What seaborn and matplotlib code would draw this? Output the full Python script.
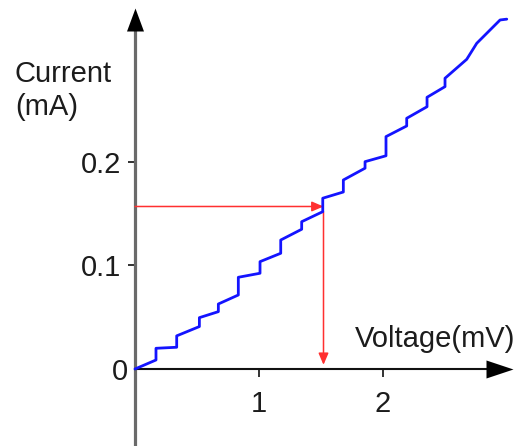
import matplotlib
matplotlib.use("Agg")
import matplotlib.pyplot as plt
import seaborn as sns
import pandas as pd

# Staircase current-voltage characteristic (vertex list)
voltage_mv = [0, 0.169, 0.169, 0.336, 0.336, 0.519, 0.519, 0.672, 0.672,
              0.833, 0.833, 1.008, 1.008, 1.175, 1.175, 1.344, 1.344,
              1.514, 1.514, 1.68, 1.68, 1.855, 1.855, 2.024, 2.024,
              2.191, 2.191, 2.355, 2.355, 2.5, 2.5, 2.675, 2.756, 2.944, 2.998]
current_ma = [0, 0.0087, 0.020, 0.021, 0.032, 0.041, 0.0496, 0.0554, 0.0628,
              0.0715, 0.0886, 0.0925, 0.1037, 0.1118, 0.1246, 0.135, 0.1423,
              0.152, 0.165, 0.171, 0.1826, 0.194, 0.2003, 0.206, 0.2245,
              0.2348, 0.2422, 0.2534, 0.2625, 0.2728, 0.2809, 0.2992, 0.3147,
              0.3372, 0.338]

# Operating point
read_voltage = 1.52
read_current = 0.157
curve_current_at_read = 0.152

x_ticks = [1, 2]
x_tick_labels = ["1", "2"]
y_ticks = [0.1, 0.2]
y_tick_labels = ["0.1", "0.2"]

sns.set_style("white")
plt.rcParams["font.family"] = ["Liberation Sans", "DejaVu Sans"]
TEXT = "#1c1c1c"
FS = 21

W, H = 524, 446
fig = plt.figure(figsize=(W / 100, H / 100), dpi=100)
ax = fig.add_axes([0, 0, 1, 1])
ax.set_xlim(-1.089, 3.137)
ax.set_ylim(-0.0744, 0.3565)

df = pd.DataFrame({"voltage": voltage_mv, "current": current_ma})
sns.lineplot(data=df, x="voltage", y="current", sort=False, estimator=None,
             color="#1414ff", lw=2.0, ax=ax, zorder=4)

# Red guide arrows to the operating point
ax.annotate("", xy=(read_voltage, read_current), xytext=(0, read_current),
            arrowprops=dict(arrowstyle="-|>,head_length=0.7,head_width=0.3",
                            color="#ff3030", lw=1.1, shrinkA=0, shrinkB=0),
            zorder=3)
ax.annotate("", xy=(read_voltage, 0.004), xytext=(read_voltage, curve_current_at_read),
            arrowprops=dict(arrowstyle="-|>,head_length=0.7,head_width=0.3",
                            color="#ff3030", lw=1.1, shrinkA=0, shrinkB=0),
            zorder=3)

# Axes through the origin
for side in ("top", "right"):
    ax.spines[side].set_visible(False)
ax.spines["left"].set_position(("data", 0))
ax.spines["bottom"].set_position(("data", 0))
ax.spines["left"].set_bounds(-0.0744, 0.33)
ax.spines["bottom"].set_bounds(0, 2.83)
ax.spines["left"].set_color("#6a6a6a")
ax.spines["left"].set_linewidth(2.3)
ax.spines["bottom"].set_color("#111111")
ax.spines["bottom"].set_linewidth(1.5)
ax.spines["left"].set_zorder(2)
ax.spines["bottom"].set_zorder(2)

# Arrowheads on the axes
ax.plot([0], [0.3266], marker=[(0, 23), (-8.5, 0), (8.5, 0)], markersize=33.1,
        color="black", mew=0, clip_on=False, zorder=5)
ax.plot([2.83], [0], marker=[(27, 0), (0, 9), (0, -9)], markersize=38.9,
        color="black", mew=0, clip_on=False, zorder=5)

ax.set_xticks(x_ticks)
ax.set_xticklabels(x_tick_labels)
ax.set_yticks(y_ticks)
ax.set_yticklabels(y_tick_labels)
ax.tick_params(axis="x", bottom=True, direction="out", length=6, width=1.3,
               color="#222222", pad=9, labelsize=FS, labelcolor=TEXT)
ax.tick_params(axis="y", left=True, direction="out", length=5, width=1.3,
               color="#222222", pad=5, labelsize=FS, labelcolor=TEXT)
ax.set_xlabel("")
ax.set_ylabel("")

px = lambda x, y: (x / W, 1 - y / H)
ax.annotate("0", xy=(0, 0), xytext=(-5, 0), textcoords="offset points",
            ha="right", va="center_baseline", fontsize=FS, color=TEXT)
ax.text(*px(15, 82), "Current", transform=ax.transAxes, ha="left",
        va="baseline", fontsize=FS, color=TEXT)
ax.text(*px(15, 115), "(mA)", transform=ax.transAxes, ha="left",
        va="baseline", fontsize=FS, color=TEXT)
ax.text(*px(355, 347), "Voltage(mV)", transform=ax.transAxes, ha="left",
        va="baseline", fontsize=FS, color=TEXT)

fig.savefig("out.png", dpi=100)
